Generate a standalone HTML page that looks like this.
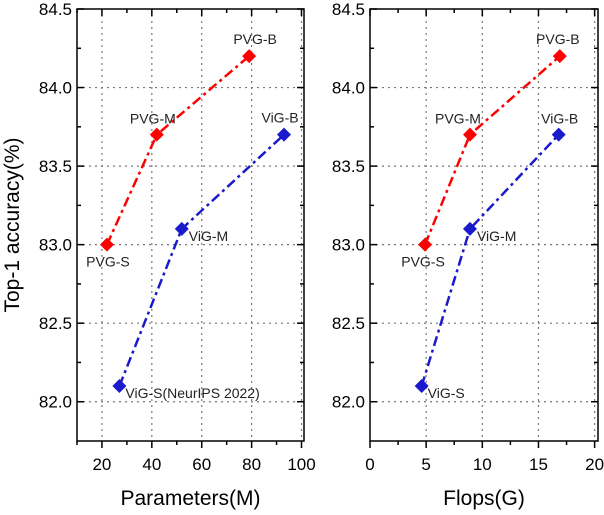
<!DOCTYPE html>
<html><head><meta charset="utf-8"><style>
body{margin:0;background:#fff;}
svg text{font-family:"Liberation Sans",sans-serif;}
</style></head><body>
<svg id="c" width="604" height="510" xmlns="http://www.w3.org/2000/svg"></svg>
<script>
const pvgParams=[22,42,79];
const vigParams=[27,52,93];
const pvgFlops=[4.9,8.9,16.9];
const vigFlops=[4.6,8.9,16.8];
const pvgAcc=[83.0,83.7,84.2];
const vigAcc=[82.1,83.1,83.7];
const pvgLabels=["PVG-S","PVG-M","PVG-B"];
const vigLabelsL=["ViG-S(NeurIPS 2022)","ViG-M","ViG-B"];
const vigLabelsR=["ViG-S","ViG-M","ViG-B"];
const yTicks=[82.0,82.5,83.0,83.5,84.0,84.5];
const xTicksL=[20,40,60,80,100];
const xTicksR=[0,5,10,15,20];

const svgEl=document.getElementById('c');
const NS="http://www.w3.org/2000/svg";
function mk(tag,attrs,parent){const e=document.createElementNS(NS,tag);for(const k in attrs)e.setAttribute(k,attrs[k]);(parent||svgEl).appendChild(e);return e;}
const yMin=81.75,yMax=84.5,yTop=9,yBot=441;
function Y(v){return yBot-(v-yMin)/(yMax-yMin)*(yBot-yTop);}

function panel(name,x0,x1,dmin,dmax,xt,minorStep,px,vx,vl,xtitle,labOff){
  const X=v=>x0+(v-dmin)/(dmax-dmin)*(x1-x0);
  const g=mk('g',{});
  
  
  xt.forEach(t=>{const x=X(t);if(x>x0+1&&x<x1-1){const l=mk('line',{x1:x,x2:x,y1:yTop,y2:yBot,stroke:'#777','stroke-width':1.2,'stroke-dasharray':'2,4'},g);
    
    }});
  yTicks.forEach(t=>{const y=Y(t);if(y>yTop+1){const l=mk('line',{x1:x0,x2:x1,y1:y,y2:y,stroke:'#777','stroke-width':1.2,'stroke-dasharray':'2,4'},g);
    
    }});
  const f=mk('rect',{x:x0,y:yTop,width:x1-x0,height:yBot-yTop,fill:'none',stroke:'#000','stroke-width':1.5},g);
  
  
  for(let v=82.0;v<=84.5001;v+=0.25){const y=Y(v);const maj=Math.abs(v*2-Math.round(v*2))<1e-6;const len=maj?7:4;
    mk('line',{x1:x0,x2:x0+len,y1:y,y2:y,stroke:'#000','stroke-width':1.5},g);
    mk('line',{x1:x1,x2:x1-len,y1:y,y2:y,stroke:'#000','stroke-width':1.5},g);}
  for(let v=Math.ceil(dmin/minorStep)*minorStep;v<=dmax+1e-6;v+=minorStep){const x=X(v);const maj=xt.some(t=>Math.abs(t-v)<1e-6);const len=maj?7:4;
    mk('line',{x1:x,x2:x,y1:yBot,y2:yBot+len,stroke:'#000','stroke-width':1.5},g);
    mk('line',{x1:x,x2:x,y1:yTop,y2:yTop+len,stroke:'#000','stroke-width':1.5},g);}
  xt.forEach(t=>{const e=mk('text',{x:X(t),y:470,'font-size':17,'text-anchor':'middle',fill:'#000'},g);e.textContent=t;
    
    });
  yTicks.forEach(t=>{const e=mk('text',{x:x0-5,y:Y(t)+6,'font-size':17,'text-anchor':'end',fill:'#000'},g);e.textContent=t.toFixed(1);
    
    });
  const xtl=mk('text',{x:(x0+x1)/2,y:505,'font-size':21,'text-anchor':'middle',fill:'#000'},g);xtl.textContent=xtitle;
  
  
  function series(xs,ys,color,labels,offs,sname){
    const pts=xs.map((x,i)=>X(x)+','+Y(ys[i])).join(' ');
    const pl=mk('polyline',{points:pts,fill:'none',stroke:color,'stroke-width':2.5,'stroke-dasharray':'10,4,3,4'},g);
    
    
    xs.forEach((x,i)=>{const cx=X(x),cy=Y(ys[i]);
      const m=mk('polygon',{points:`${cx},${cy-7} ${cx+7},${cy} ${cx},${cy+7} ${cx-7},${cy}`,fill:color},g);
      
      
      const t=mk('text',{x:cx+offs[i][0],y:cy+offs[i][1],'font-size':14,fill:'#222','text-anchor':offs[i][2]},g);
      t.textContent=labels[i];
      
      });
  }
  series(px,pvgAcc,'#ff0000',pvgLabels,labOff.p,'pvg');
  series(vx,vigAcc,'#1a1acc',vl,labOff.v,'vig');
}
panel('params',77,304,10,101,xTicksL,10,pvgParams,vigParams,vigLabelsL,'Parameters(M)',
 {p:[[1,22,'middle'],[-4,-11,'middle'],[6,-12,'middle']],v:[[6,12,'start'],[7,12,'start'],[-4,-12,'middle']]});
panel('flops',370,598,0,20.3,xTicksR,2.5,pvgFlops,vigFlops,vigLabelsR,'Flops(G)',
 {p:[[-2,22,'middle'],[-12,-11,'middle'],[-2,-12,'middle']],v:[[6,12,'start'],[7,12,'start'],[1,-11,'middle']]});
const yl=mk('text',{x:0,y:0,'font-size':21,'text-anchor':'middle',fill:'#000',transform:'translate(19,225) rotate(-90)'});
yl.textContent='Top-1 accuracy(%)';


</script>
</body></html>
